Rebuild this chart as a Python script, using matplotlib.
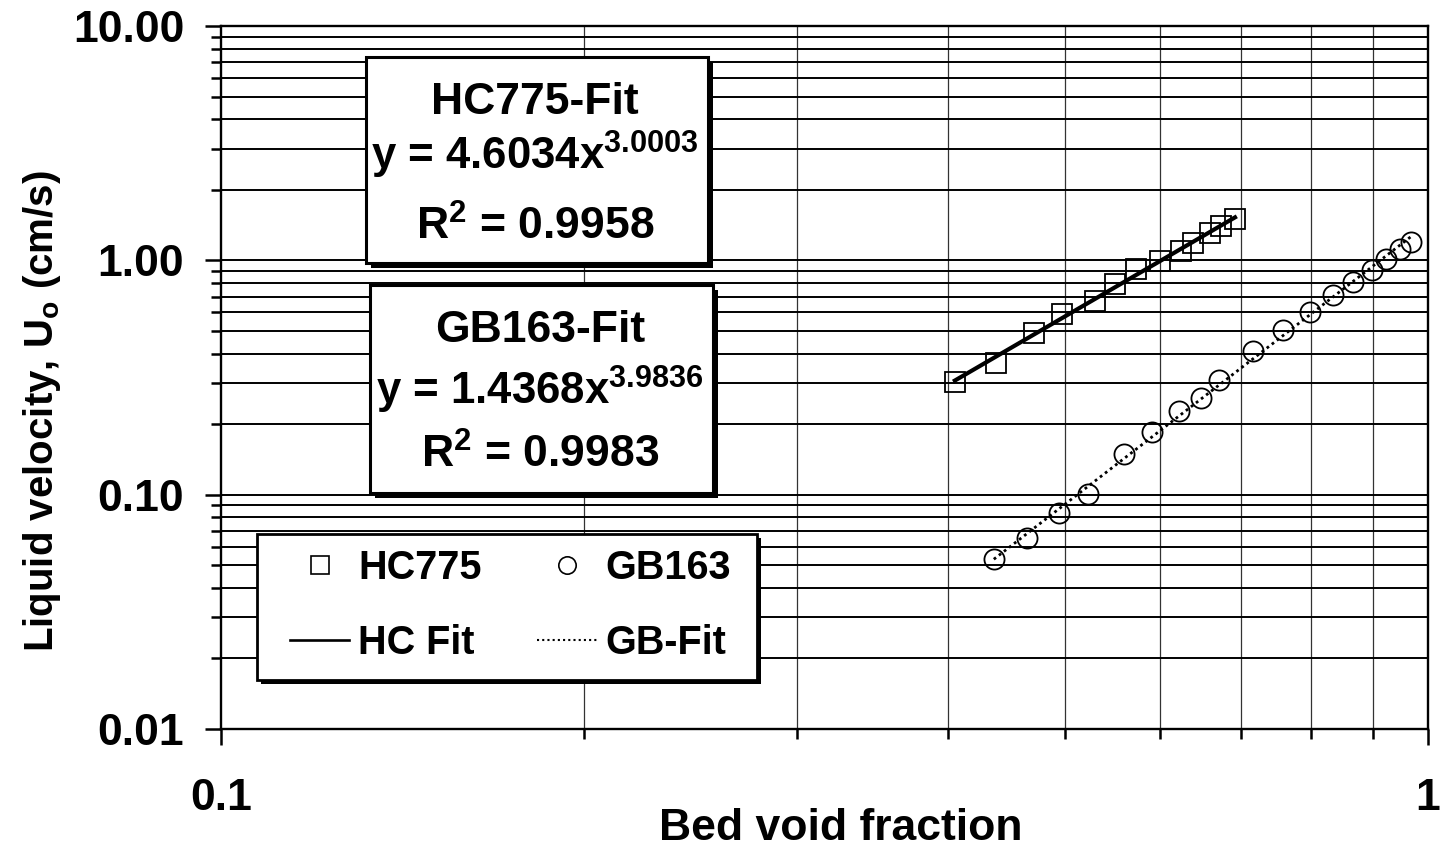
import matplotlib
matplotlib.use('Agg')
import matplotlib.pyplot as plt
import numpy as np
from matplotlib.patches import Rectangle
from matplotlib.lines import Line2D
from matplotlib.ticker import FixedLocator, FixedFormatter, LogLocator, NullFormatter

# ---------------- data ----------------
hc_void = [0.4055, 0.4387, 0.4714, 0.4977, 0.5296, 0.5508, 0.5727, 0.5998,
           0.6239, 0.6387, 0.6598, 0.6743, 0.6920]
hc_vel = [0.3016, 0.3657, 0.4912, 0.5919, 0.6726, 0.7950, 0.9210, 0.9963,
          1.093, 1.189, 1.304, 1.401, 1.496]

gb_void = [0.4368, 0.4654, 0.4946, 0.5226, 0.5595, 0.5903, 0.6219, 0.6481,
           0.6711, 0.7166, 0.7588, 0.7990, 0.8337, 0.8661, 0.8982, 0.9231,
           0.9480, 0.9676]
gb_vel = [0.0533, 0.0651, 0.0832, 0.1003, 0.1487, 0.1845, 0.2268, 0.2594,
          0.3095, 0.4103, 0.5028, 0.6019, 0.7095, 0.8110, 0.9066, 1.010,
          1.115, 1.197]

hc_fit_a, hc_fit_b, hc_r2 = 4.6034, 3.0003, 0.9958
gb_fit_a, gb_fit_b, gb_r2 = 1.4368, 3.9836, 0.9983

x_tick_vals = [0.1, 1]
x_tick_labels = ['0.1', '1']
y_tick_vals = [0.01, 0.1, 1, 10]
y_tick_labels = ['0.01', '0.10', '1.00', '10.00']

# ---------------- style ----------------
plt.rcParams['font.family'] = ['Liberation Sans', 'DejaVu Sans']
plt.rcParams['font.weight'] = 'bold'
plt.rcParams['axes.labelweight'] = 'bold'
plt.rcParams['mathtext.fontset'] = 'custom'
plt.rcParams['mathtext.rm'] = 'Liberation Sans:bold'
plt.rcParams['mathtext.it'] = 'Liberation Sans:bold'
plt.rcParams['mathtext.bf'] = 'Liberation Sans:bold'

W, H = 1447, 855
fig = plt.figure(figsize=(W / 100, H / 100), dpi=100)
ax_l, ax_r, ax_t, ax_b = 221, 1428, 26, 729
ax = fig.add_axes([ax_l / W, 1 - ax_b / H, (ax_r - ax_l) / W, (ax_b - ax_t) / H])

ax.set_xscale('log')
ax.set_yscale('log')
ax.set_xlim(0.1, 1)
ax.set_ylim(0.01, 10)

# grid
ax.yaxis.set_minor_locator(LogLocator(base=10, subs=np.arange(2, 10)))
ax.xaxis.set_minor_locator(LogLocator(base=10, subs=np.arange(2, 10)))
ax.xaxis.set_minor_formatter(NullFormatter())
ax.yaxis.set_minor_formatter(NullFormatter())
ax.grid(which='both', axis='y', color='black', lw=1.4, zorder=0)
ax.grid(which='minor', axis='x', color='0.2', lw=0.9, zorder=0)
ax.set_axisbelow(True)

ax.xaxis.set_major_locator(FixedLocator(x_tick_vals))
ax.xaxis.set_major_formatter(FixedFormatter(x_tick_labels))
ax.yaxis.set_major_locator(FixedLocator(y_tick_vals))
ax.yaxis.set_major_formatter(FixedFormatter(y_tick_labels))

ax.tick_params(axis='both', which='major', direction='out', length=11.5, width=1.8,
               labelsize=32)
ax.tick_params(axis='both', which='minor', direction='out', length=7, width=1.8)
ax.tick_params(axis='y', which='major', pad=15)
ax.tick_params(axis='x', which='major', pad=24)
for s in ax.spines.values():
    s.set_linewidth(1.7)
    s.set_color('black')

# data
ax.plot(hc_void, hc_vel, linestyle='none', marker='s', markersize=14.5,
        markerfacecolor='none', markeredgecolor='black', markeredgewidth=1.3, zorder=3)
ax.plot(gb_void, gb_vel, linestyle='none', marker='o', markersize=14.5,
        markerfacecolor='none', markeredgecolor='black', markeredgewidth=1.3, zorder=3)

hc_fx = np.geomspace(min(hc_void), max(hc_void), 50)
gb_fx = np.geomspace(min(gb_void), max(gb_void), 50)
ax.plot(hc_fx, hc_fit_a * hc_fx ** hc_fit_b, color='black', lw=3.0, zorder=4)
ax.plot(gb_fx, gb_fit_a * gb_fx ** gb_fit_b, color='black', lw=2.0,
        linestyle=(0, (1, 1.3)), zorder=4)

# labels
ax.set_xlabel('Bed void fraction', fontsize=32, fontweight='bold', va='baseline', ha='center')
ax.xaxis.set_label_coords((841 - ax_l) / (ax_r - ax_l), (ax_b - 840) / (ax_b - ax_t))
ax.set_ylabel('Liquid velocity, U$_\\mathrm{o}$ (cm/s)', fontsize=29, fontweight='bold',
              va='center', ha='center')
ax.yaxis.set_label_coords((42 - ax_l) / (ax_r - ax_l), (ax_b - 411) / (ax_b - ax_t))


def px_rect(x0, y0, x1, y1, **kw):
    return Rectangle((x0 / W, 1 - y1 / H), (x1 - x0) / W, (y1 - y0) / H,
                     transform=fig.transFigure, **kw)


def shadow_box(x0, y0, x1, y1, off=5, lw=2.2):
    fig.add_artist(px_rect(x0 + off, y0 + off, x1 + off, y1 + off,
                           facecolor='black', edgecolor='black', lw=0, zorder=2))
    fig.add_artist(px_rect(x0, y0, x1, y1, facecolor='white', edgecolor='black',
                           lw=lw, zorder=2.5))


# equation boxes
shadow_box(366, 57, 708, 263)
cx1 = 535
fig.text(cx1 / W, 1 - 114 / H, 'HC775-Fit', ha='center', va='baseline', fontsize=32, zorder=3)
fig.text(cx1 / W, 1 - 170 / H, f'y = {hc_fit_a:.4f}x$^{{{hc_fit_b:.4f}}}$',
         ha='center', va='baseline', fontsize=31.5, zorder=3)
fig.text(cx1 / W, 1 - 240 / H, f'R$^{{2}}$ = {hc_r2:.4f}', ha='center', va='baseline',
         fontsize=32, zorder=3)

shadow_box(370, 285, 713, 493)
cx2 = 540
fig.text(cx2 / W, 1 - 342 / H, 'GB163-Fit', ha='center', va='baseline', fontsize=32, zorder=3)
fig.text(cx2 / W, 1 - 405 / H, f'y = {gb_fit_a:.4f}x$^{{{gb_fit_b:.4f}}}$',
         ha='center', va='baseline', fontsize=31.5, zorder=3)
fig.text(cx2 / W, 1 - 468 / H, f'R$^{{2}}$ = {gb_r2:.4f}', ha='center', va='baseline',
         fontsize=32, zorder=3)

# legend
shadow_box(257, 534, 757, 680, off=4, lw=2.0)
handles = [
    Line2D([], [], linestyle='none', marker='s', markersize=13, markerfacecolor='none',
           markeredgecolor='black', markeredgewidth=1.2),
    Line2D([], [], color='black', lw=1.9),
    Line2D([], [], linestyle='none', marker='o', markersize=12.5, markerfacecolor='none',
           markeredgecolor='black', markeredgewidth=1.2),
    Line2D([], [], color='black', lw=1.5, linestyle=(0, (1, 1.5))),
]
labels = ['HC775', 'HC Fit', 'GB163', 'GB-Fit']
leg = fig.legend(handles, labels, loc='upper left', bbox_to_anchor=(290 / W, 1 - 549 / H),
                 frameon=False, ncol=2, fontsize=28.5, borderpad=0, borderaxespad=0,
                 handlelength=1.5, handletextpad=0.23, columnspacing=1.4,
                 labelspacing=0.93)
leg.set_zorder(4)

fig.savefig('out.png', dpi=100)
